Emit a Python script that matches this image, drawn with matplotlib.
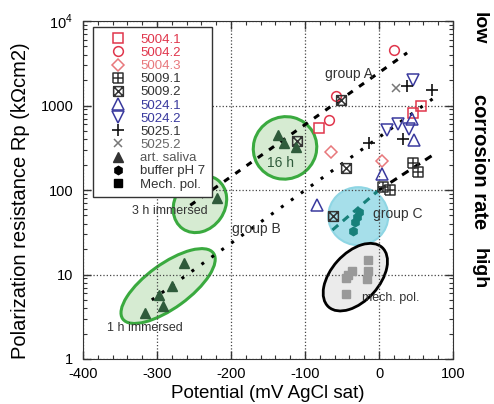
# Polarization resistance vs potential, recreated with matplotlib
import numpy as np
import matplotlib.pyplot as plt
import matplotlib.transforms as mtransforms
from matplotlib.path import Path
from matplotlib.patches import Ellipse
from matplotlib.lines import Line2D

plt.rcParams['font.family'] = ['Liberation Sans', 'DejaVu Sans']
plt.rcParams['mathtext.fontset'] = 'custom'
plt.rcParams['mathtext.rm'] = 'Liberation Sans'

# DATA (potential in mV, Rp in kOhm cm2)
x_5004_1 = [-81, 46, 57]
y_5004_1 = [540, 820, 1000]
x_5004_2 = [20, -58, -68]
y_5004_2 = [4500, 1290, 675]
x_5004_3 = [-65, 4]
y_5004_3 = [280, 220]
x_5009_1 = [46, 53, 5, 15]
y_5009_1 = [208, 163, 109, 100]
x_5009_2 = [-51, -111, -45, -62]
y_5009_2 = [1160, 380, 182, 49]
x_5024_1 = [4, 47, 45, -84]
y_5024_1 = [155, 390, 700, 66]
x_5024_2 = [11, 26, 41, 46]
y_5024_2 = [510, 600, 530, 2000]
x_5025_1 = [38, 72, -13, 33]
y_5025_1 = [1700, 1520, 360, 400]
x_5025_2 = [23]
y_5025_2 = [1620]
x_saliva = [-136, -128, -112, -219, -263, -280, -297, -292, -316]
y_saliva = [450, 360, 325, 80, 13.7, 7.3, 5.7, 4.2, 3.5]
x_buffer = [-27, -30, -33, -35]
y_buffer = [55, 48, 42, 33]
x_mech = [-15, -15, -16, -36, -42, -45, -45]
y_mech = [14.8, 11, 8.8, 11, 10, 9.1, 5.9]

# trend lines for the groups
x_group_a = [-255, 38]
y_group_a = [66, 4200]
x_group_b = [-307, 76]
y_group_b = [5.0, 1260]
x_group_c_in = [-63, 0]
y_group_c_in = [33.6, 100]
x_group_c_out = [0, 73]
y_group_c_out = [100, 260]

legend_labels = ['5004.1', '5004.2', '5004.3', '5009.1', '5009.2', '5024.1',
                 '5024.2', '5025.1', '5025.2', 'art. saliva', 'buffer pH 7',
                 'Mech. pol.']

RED = '#e0364c'
PINK = '#e8787c'
BLUE = '#3a3a9e'
DARK = '#333333'
SALIVA = '#2f5b3b'
TEAL = '#17807a'

# boxed plus / boxed x markers
sq = [(-1, -1), (1, -1), (1, 1), (-1, 1), (-1, -1)]
sq_codes = [Path.MOVETO] + [Path.LINETO] * 4
box_plus = Path(sq + [(0, -1), (0, 1), (-1, 0), (1, 0)],
                sq_codes + [Path.MOVETO, Path.LINETO, Path.MOVETO, Path.LINETO])
box_x = Path(sq + [(-1, -1), (1, 1), (-1, 1), (1, -1)],
             sq_codes + [Path.MOVETO, Path.LINETO, Path.MOVETO, Path.LINETO])

fig = plt.figure(figsize=(4.94, 4.04), dpi=100)
ax = fig.add_axes([83 / 494, 1 - 359 / 404, 370 / 494, 338 / 404])
ax.set_yscale('log')
ax.set_xlim(-400, 100)
ax.set_ylim(1, 1e4)


def add_blob(x, y, w, h, angle, face, edge, lw):
    # ellipse sized in pixels, centred on a data point
    trans = (mtransforms.Affine2D().scale(1 / 100.0) + fig.dpi_scale_trans
             + mtransforms.ScaledTranslation(x, y, ax.transData))
    e = Ellipse((0, 0), w, h, angle=angle, transform=trans,
                facecolor=face, edgecolor=edge, lw=lw, zorder=1)
    ax.add_patch(e)


GREEN_FACE = '#d6ebd2'
GREEN_EDGE = '#3aaa3f'
add_blob(-285, 7.3, 112, 44, 36, GREEN_FACE, GREEN_EDGE, 2.2)
add_blob(-242, 68, 60, 50, 55, GREEN_FACE, GREEN_EDGE, 2.2)
add_blob(-127, 315, 64, 62, 30, GREEN_FACE, GREEN_EDGE, 2.2)
add_blob(-28, 49, 60, 58, 0, '#a6dfea', '#8fd6e4', 1.5)
add_blob(-32, 9.3, 80, 48, 48, '#ebebeb', 'black', 2.0)

# trend lines
ax.plot(x_group_a, y_group_a, color='black', ls=(0, (2, 2.5)), lw=2.2, zorder=2)
ax.plot(x_group_b, y_group_b, color='black', ls=(0, (1, 3)), lw=2.2, zorder=2)
ax.plot(x_group_c_in, y_group_c_in, color=TEAL, ls=(0, (2.5, 2)), lw=2.2, zorder=2)
ax.plot(x_group_c_out, y_group_c_out, color='black', ls=(0, (2.5, 2)), lw=2.2, zorder=2)

# data points
ms = 7
mew = 1.1
ax.plot(x_5004_1, y_5004_1, 's', ms=ms, mfc='none', mec=RED, mew=mew, zorder=3)
ax.plot(x_5004_2, y_5004_2, 'o', ms=ms, mfc='none', mec=RED, mew=mew, zorder=3)
ax.plot(x_5004_3, y_5004_3, 'D', ms=6, mfc='none', mec=PINK, mew=mew, zorder=3)
ax.plot(x_5009_1, y_5009_1, marker=box_plus, ls='none', ms=ms, mfc='none', mec=DARK, mew=mew, zorder=3)
ax.plot(x_5009_2, y_5009_2, marker=box_x, ls='none', ms=ms, mfc='none', mec=DARK, mew=mew, zorder=3)
ax.plot(x_5024_1, y_5024_1, '^', ms=8, mfc='none', mec=BLUE, mew=mew, zorder=3)
ax.plot(x_5024_2, y_5024_2, 'v', ms=8, mfc='none', mec=BLUE, mew=mew, zorder=3)
ax.plot(x_5025_1, y_5025_1, '+', ms=8, mec='#111111', mew=1.2, zorder=3)
ax.plot(x_5025_2, y_5025_2, 'x', ms=6, mec='#777777', mew=1.1, zorder=3)
ax.plot(x_saliva, y_saliva, '^', ms=7, color=SALIVA, zorder=3)
ax.plot(x_buffer, y_buffer, 'h', ms=6, color=TEAL, zorder=3)
ax.plot(x_mech, y_mech, 's', ms=5.5, color='#999999', zorder=3)

# annotations
ax.text(-73, 2100, 'group A', fontsize=10, color=DARK, zorder=4)
ax.text(-199, 31, 'group B', fontsize=10, color=DARK, zorder=4)
ax.text(-8, 52, 'group C', fontsize=10, color=DARK, va='center', zorder=4)
ax.text(-151, 185, '16 h', fontsize=10, color=SALIVA, zorder=4)
ax.text(-334, 52, '3 h immersed', fontsize=9, color=DARK, zorder=4)
ax.text(-368, 2.15, '1 h immersed', fontsize=9, color=DARK, zorder=4)
ax.text(-23, 4.9, 'mech. pol.', fontsize=9, color=DARK, zorder=4)

# axes styling
ax.set_xticks(np.arange(-400, 101, 100))
ax.set_xticks(np.arange(-400, 101, 20), minor=True)
ax.set_xticklabels(['-400', '-300', '-200', '-100', '0', '100'])
ax.set_yticks([1, 10, 100, 1000, 1e4])
ax.set_yticklabels(['1', '10', '100', '1000', r'$10^4$'])
ax.tick_params(which='both', direction='in', top=True, right=True,
               labelsize=10.5, color=DARK)
ax.tick_params(which='major', length=6, width=1)
ax.tick_params(which='minor', length=3, width=0.8)
ax.tick_params(axis='x', which='major', pad=5.5)
ax.tick_params(axis='y', which='major', pad=7)
ax.grid(True, which='major', ls=':', color='#444444', lw=0.9, zorder=0)
for s in ax.spines.values():
    s.set_color(DARK)
ax.set_xlabel('Potential (mV AgCl sat)', fontsize=13.5)
ax.set_ylabel('Polarization resistance Rp (k\u03a9cm2)', fontsize=14.5)
ax.xaxis.set_label_coords(0.5, -0.078)
ax.yaxis.set_label_coords(-0.143, 0.467)

# legend built from proxy handles
handles = [
    Line2D([], [], ls='none', marker='s', ms=ms, mfc='none', mec=RED, mew=mew),
    Line2D([], [], ls='none', marker='o', ms=ms, mfc='none', mec=RED, mew=mew),
    Line2D([], [], ls='none', marker='D', ms=6, mfc='none', mec=PINK, mew=mew),
    Line2D([], [], ls='none', marker=box_plus, ms=ms, mfc='none', mec=DARK, mew=mew),
    Line2D([], [], ls='none', marker=box_x, ms=ms, mfc='none', mec=DARK, mew=mew),
    Line2D([], [], ls='none', marker='^', ms=8, mfc='none', mec=BLUE, mew=mew),
    Line2D([], [], ls='none', marker='v', ms=8, mfc='none', mec=BLUE, mew=mew),
    Line2D([], [], ls='none', marker='+', ms=8, mec='#111111', mew=1.2),
    Line2D([], [], ls='none', marker='x', ms=6, mec='#777777', mew=1.1),
    Line2D([], [], ls='none', marker='^', ms=7, color=DARK),
    Line2D([], [], ls='none', marker='h', ms=6, color='black'),
    Line2D([], [], ls='none', marker='s', ms=6, color='black'),
]
leg = ax.legend(handles, legend_labels, loc='upper left',
                bbox_to_anchor=(10 / 370, 1 - 6 / 338), borderaxespad=0,
                fontsize=9.5, labelspacing=0.07, handlelength=2.8,
                handletextpad=0.27, borderpad=0.5, fancybox=False,
                framealpha=1, edgecolor=DARK)
leg.get_frame().set_linewidth(1.0)
leg.set_zorder(5)
text_colors = [RED, RED, PINK, DARK, DARK, BLUE, BLUE, DARK, '#666666',
               '#555555', DARK, DARK]
for t, c in zip(leg.get_texts(), text_colors):
    t.set_color(c)

# right-hand labels
fig.text(479 / 494, 1 - 28 / 404, 'low', rotation=-90, fontsize=14,
         fontweight='bold', ha='center', va='center')
fig.text(479 / 494, 1 - 162 / 404, 'corrosion rate', rotation=-90, fontsize=14.5,
         fontweight='bold', ha='center', va='center')
fig.text(479 / 494, 1 - 269 / 404, 'high', rotation=-90, fontsize=14,
         fontweight='bold', ha='center', va='center')

fig.savefig('out.png', dpi=100)
